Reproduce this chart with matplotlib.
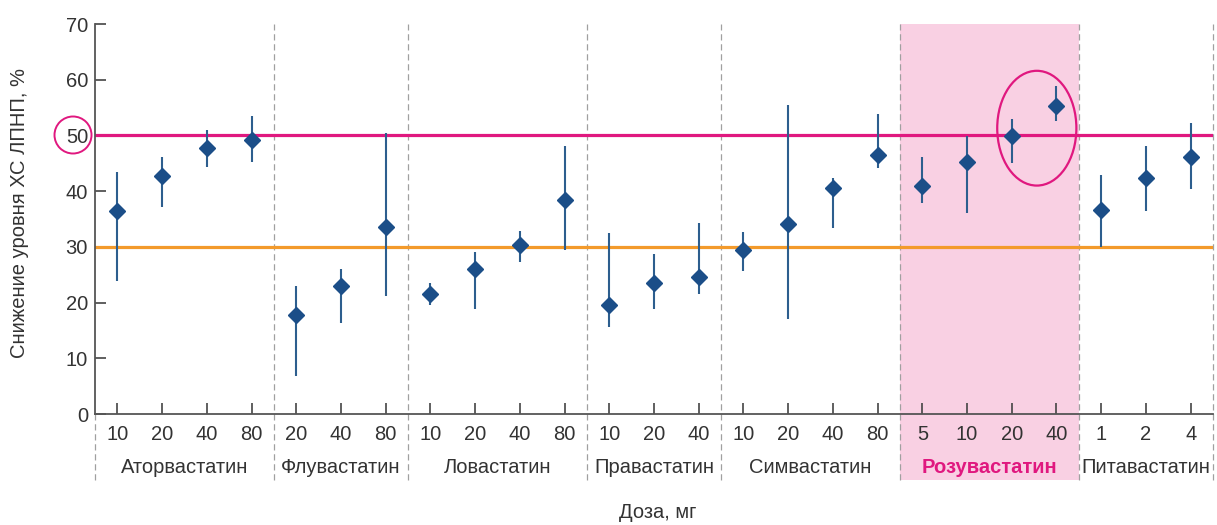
import matplotlib
matplotlib.use("Agg")
import matplotlib.pyplot as plt
import matplotlib.transforms as mtransforms
from matplotlib.patches import Ellipse, Circle
import numpy as np

plt.rcParams['font.family'] = ['Liberation Sans', 'DejaVu Sans']

# ---- data ----
drugs = ["Аторвастатин", "Флувастатин", "Ловастатин", "Правастатин",
         "Симвастатин", "Розувастатин", "Питавастатин"]
doses = [["10", "20", "40", "80"],
         ["20", "40", "80"],
         ["10", "20", "40", "80"],
         ["10", "20", "40"],
         ["10", "20", "40", "80"],
         ["5", "10", "20", "40"],
         ["1", "2", "4"]]
means = [[36.5, 42.8, 47.8, 49.2],
         [17.8, 22.9, 33.6],
         [21.5, 26.0, 30.3, 38.4],
         [19.5, 23.5, 24.6],
         [29.4, 34.1, 40.5, 46.5],
         [41.0, 45.2, 49.9, 55.3],
         [36.7, 42.3, 46.2]]
upper = [[43.5, 46.2, 50.9, 53.5],
         [23.0, 26.1, 50.5],
         [23.6, 29.0, 32.9, 48.1],
         [32.5, 28.7, 34.3],
         [32.7, 55.5, 42.3, 53.8],
         [46.2, 49.9, 52.9, 58.9],
         [42.9, 48.1, 52.3]]
lower = [[23.9, 37.2, 44.3, 45.3],
         [6.8, 16.4, 21.2],
         [19.6, 18.8, 27.3, 29.4],
         [15.7, 18.8, 21.5],
         [25.7, 17.0, 33.4, 44.1],
         [37.8, 36.0, 45.0, 52.6],
         [30.0, 36.4, 40.4]]
target_high = 50
target_low = 30
highlight_drug = "Розувастатин"
y_ticks = [0, 10, 20, 30, 40, 50, 60, 70]

# ---- colors ----
c_marker = "#1b4e88"
c_err = "#2d5e8e"
c_mag = "#e0187f"
c_orange = "#f39a2b"
c_pink = "#f9d0e3"
c_text = "#333333"
c_sep = "#a0a0a0"

W, H = 1217, 525
fig = plt.figure(figsize=(W / 100, H / 100), dpi=100)
ax = fig.add_axes([95 / W, (H - 414) / H, (1213 - 95) / W, (414 - 24) / H])

# flatten
xs, ys, lo, hi, labels = [], [], [], [], []
group_bounds = []
i = 0
for d, m, u, l in zip(doses, means, upper, lower):
    start = i
    for dd, mm, uu, ll in zip(d, m, u, l):
        xs.append(i); ys.append(mm); lo.append(mm - ll); hi.append(uu - mm)
        labels.append(dd)
        i += 1
    group_bounds.append((start - 0.5, i - 0.5))
n = i

ax.set_xlim(-0.5, n - 0.5)
ax.set_ylim(0, 70)

trans = mtransforms.blended_transform_factory(ax.transData, ax.transAxes)
below = -0.169

# highlight shade
for (a, b), name in zip(group_bounds, drugs):
    if name == highlight_drug:
        ax.axvspan(a, b, ymin=below, ymax=1.0, color=c_pink, lw=0, zorder=0,
                   clip_on=False)

# separators
seps = sorted(set([b for ab in group_bounds for b in ab]))
for s in seps:
    top = 0.0 if s == seps[0] else 1.0
    ax.plot([s, s], [below, top], transform=trans, color=c_sep, lw=0.9,
            ls=(0, (5, 3)), clip_on=False, zorder=1)

# reference lines
ax.axhline(target_high, color=c_mag, lw=2.3, zorder=2)
ax.axhline(target_low, color=c_orange, lw=2.3, zorder=2)

# data
ax.errorbar(xs, ys, yerr=[lo, hi], fmt='none', ecolor=c_err, elinewidth=1.5,
            capsize=0, zorder=3)
ax.plot(xs, ys, ls='none', marker='D', ms=8, color=c_marker, mec=c_marker,
        zorder=4)

# axes styling
for sp in ['top', 'right']:
    ax.spines[sp].set_visible(False)
for sp in ['left', 'bottom']:
    ax.spines[sp].set_color('#555555')
    ax.spines[sp].set_linewidth(1.3)
ax.set_yticks(y_ticks)
ax.set_xticks(xs)
ax.set_xticklabels(labels)
ax.tick_params(axis='y', direction='in', length=8, width=1.2, color='#444444',
               labelsize=14.5, labelcolor=c_text, pad=5)
ax.tick_params(axis='x', direction='in', length=8, width=1.2, color='#444444',
               labelsize=14.5, labelcolor=c_text, pad=8)

# group labels
for (a, b), name in zip(group_bounds, drugs):
    if name == highlight_drug:
        ax.text((a + b) / 2, -0.138, name, transform=trans, ha='center',
                va='center', fontsize=14.5, color=c_mag, fontweight='bold')
    else:
        ax.text((a + b) / 2, -0.138, name, transform=trans, ha='center',
                va='center', fontsize=14.5, color=c_text)

ax.text(0.503, -0.252, "Доза, мг", transform=ax.transAxes, ha='center',
        va='center', fontsize=14.5, color=c_text)
fig.text(20 / W, (H - 213) / H, "Снижение уровня ХС ЛПНП, %", rotation=90,
         ha='center', va='center', fontsize=14.5, color=c_text)

# ellipse around highest rosuvastatin doses
ax.add_patch(Ellipse((20.56, 51.3), 1.77, 20.6, fill=False, edgecolor=c_mag,
                     lw=1.6, zorder=5))
# circle around "50" tick label
fig.patches.append(Circle((73 / 100, (H - 135) / 100), 0.185, fill=False,
                          edgecolor=c_mag, lw=1.4,
                          transform=fig.dpi_scale_trans, figure=fig))

fig.savefig("out.png", dpi=100)
